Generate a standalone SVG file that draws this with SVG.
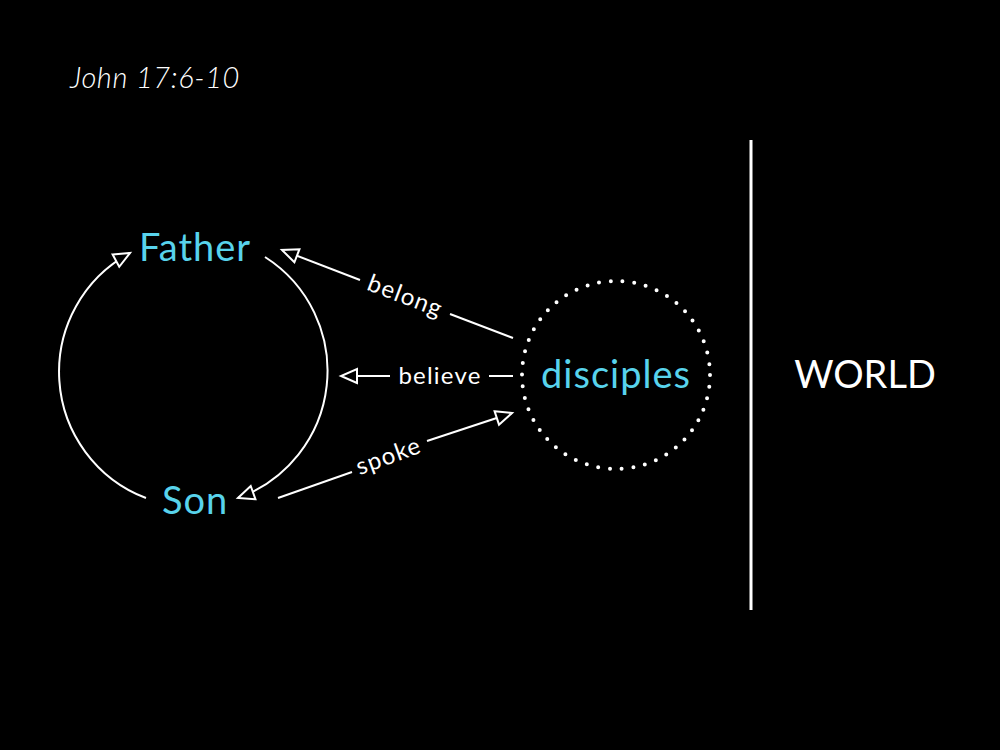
<svg xmlns="http://www.w3.org/2000/svg" width="1000" height="750" viewBox="0 0 1000 750">
<defs>
<style>
.bg{fill:#000}
.ln{fill:none;stroke:#fff;stroke-width:2}
.node{fill:#58d3ec;font-family:Lato,"Noto Sans",sans-serif;font-size:38px;font-weight:400;letter-spacing:1px}
.lbl{fill:#fff;font-family:Lato,"Noto Sans",sans-serif;font-size:24px;font-weight:400;letter-spacing:1.2px}
.world{fill:#fff;font-family:Lato,"Noto Sans",sans-serif;font-size:38px;font-weight:400}
.title{fill:#fff;font-family:Lato,"Noto Sans",sans-serif;font-size:29px;font-style:italic;font-weight:300;letter-spacing:0.6px}
</style>
<marker id="ah" markerUnits="userSpaceOnUse" markerWidth="20" markerHeight="18" refX="17" refY="8" orient="auto" viewBox="0 0 20 18" overflow="visible">
<path d="M1,1 L17,8 L1,15 Z" fill="#000" stroke="#fff" stroke-width="2" stroke-linejoin="miter"/>
</marker>
</defs>
<rect class="bg" x="0" y="0" width="1000" height="750"/>
<text class="title" x="70" y="88">John 17:6-10</text>
<g id="father"><text class="node" x="139" y="261">Father</text></g>
<g id="son"><text class="node" x="162" y="514">Son</text></g>
<g id="disciples">
<circle cx="616" cy="375" r="94" fill="none" stroke="#fff" stroke-width="4" stroke-linecap="round" stroke-dasharray="0 11.81"/>
<text class="node" x="616" y="388" text-anchor="middle">disciples</text>
</g>
<g id="world">
<line x1="751" y1="140" x2="751" y2="610" stroke="#fff" stroke-width="3"/>
<text class="world" x="865" y="388" text-anchor="middle">WORLD</text>
</g>
<g id="connectors">
<path class="ln" d="M146,498 A135,135 0 0 1 130,253" marker-end="url(#ah)"/>
<path class="ln" d="M265,257 A135,135 0 0 1 238,498" marker-end="url(#ah)"/>
<line class="ln" x1="360" y1="280" x2="282" y2="250" marker-end="url(#ah)"/>
<line class="ln" x1="450" y1="314" x2="513" y2="338"/>
<text class="lbl" x="405" y="304" text-anchor="middle" transform="rotate(20.9 405 297)">belong</text>
<line class="ln" x1="390" y1="376" x2="341" y2="376" marker-end="url(#ah)"/>
<line class="ln" x1="489" y1="376" x2="513" y2="376"/>
<text class="lbl" x="440" y="384" text-anchor="middle">believe</text>
<line class="ln" x1="278" y1="498" x2="352" y2="472"/>
<line class="ln" x1="427" y1="441" x2="512" y2="413" marker-end="url(#ah)"/>
<text class="lbl" x="389" y="464" text-anchor="middle" transform="rotate(-20 389 457)">spoke</text>
</g>
</svg>
